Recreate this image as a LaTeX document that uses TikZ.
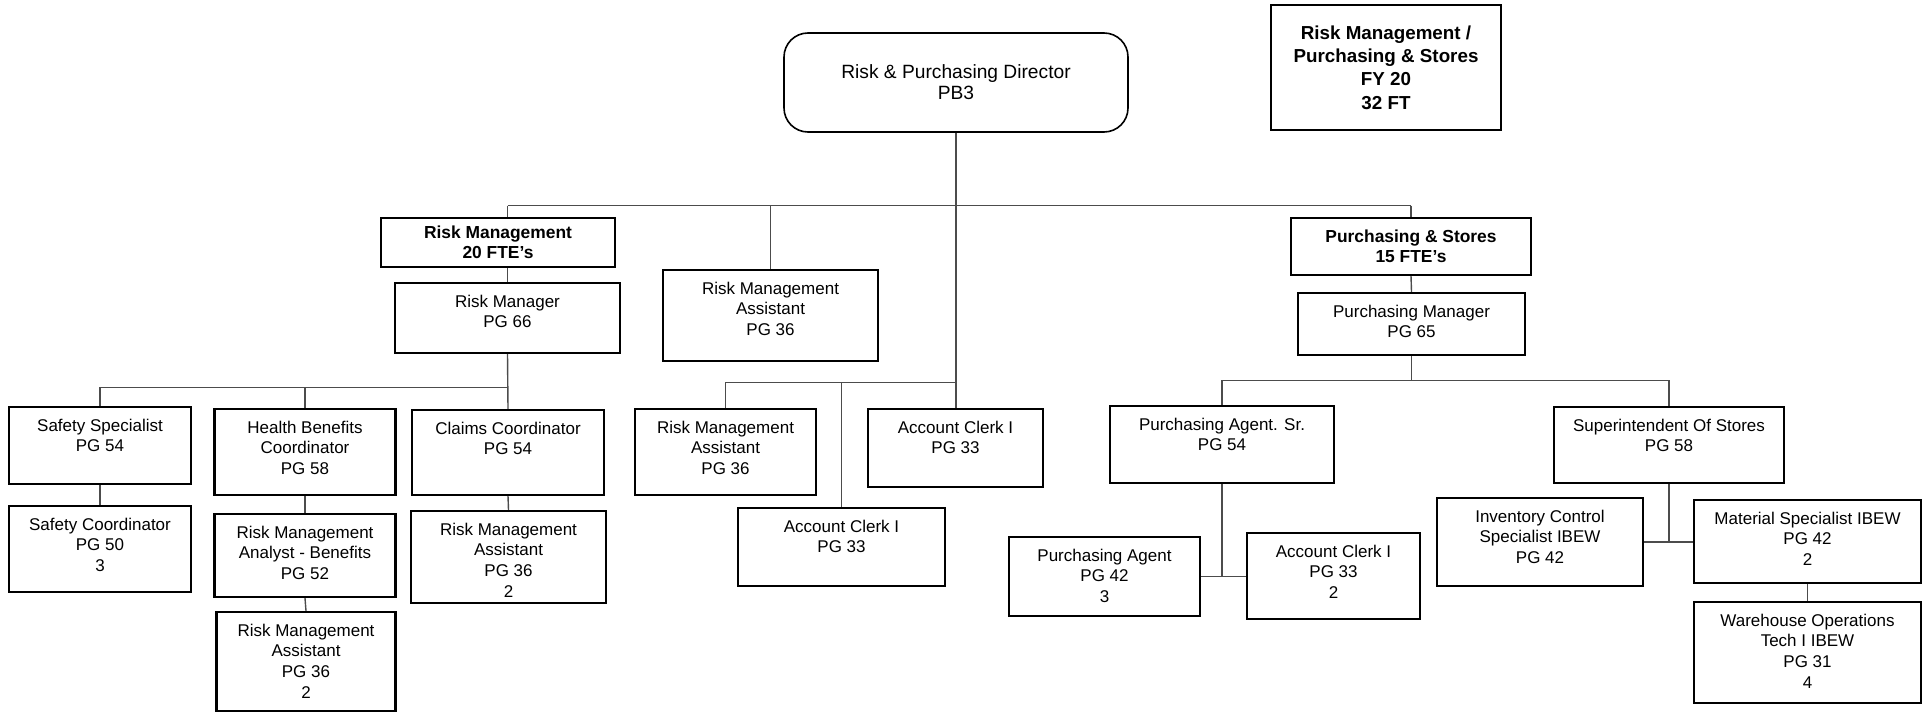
\documentclass[tikz,border=0pt]{standalone}
\usepackage{fontspec}
\setmainfont{Liberation Sans}
\usepackage{tikz}
\tikzstyle{post}=[rectangle,draw=black,line width=1.1pt,inner sep=0pt]
\tikzstyle{head}=[rectangle,rounded corners=12pt,draw=black,line width=0.8pt,inner sep=0pt,align=center,font=\fontsize{9.6}{10.5}\selectfont]
\tikzstyle{dept}=[rectangle,draw=black,line width=1.1pt,inner sep=0pt,align=center,font=\bfseries\fontsize{8.7}{10}\selectfont]
\tikzstyle{total}=[rectangle,draw=black,line width=1.1pt,inner sep=0pt,align=center,font=\bfseries\fontsize{9.4}{11.65}\selectfont]
\tikzstyle{ptext}=[anchor=north,inner sep=0pt,yshift=-6.3pt,align=center,font=\fontsize{8.5}{10.35}\selectfont]
\tikzstyle{link}=[-,draw=black!70,line width=0.7pt]
\pgfdeclarelayer{edgelayer}
\pgfdeclarelayer{nodelayer}
\pgfsetlayers{edgelayer,nodelayer,main}

\begin{document}
\begin{tikzpicture}[x=50pt,y=50pt]
	\useasboundingbox (0, 0) rectangle (19.31, -7.12);
	\begin{pgfonlayer}{nodelayer}
		\node [style=head, minimum width=172pt, minimum height=49.5pt] (dir) at (9.56, -0.825) {Risk \& Purchasing Director\\PB3};
		\node [style=total, minimum width=115pt, minimum height=62.5pt] (fy) at (13.86, -0.675) {Risk Management /\\Purchasing \& Stores\\FY 20\\32 FT};
		\node [style=dept, minimum width=117pt, minimum height=24.5pt] (rmdept) at (4.98, -2.425) {Risk Management\\20 FTE’s};
		\node [style=dept, minimum width=120pt, minimum height=28.5pt] (psdept) at (14.11, -2.465) {Purchasing \& Stores\\15 FTE’s};
		\node [style=post, minimum width=112.5pt, minimum height=35pt] (rmgr) at (5.075, -3.18) {};
		\node [style=ptext] (rmgr text) at (rmgr.north) {Risk Manager\\PG 66};
		\node [style=post, minimum width=107.5pt, minimum height=45.5pt] (rma1) at (7.705, -3.155) {};
		\node [style=ptext] (rma1 text) at (rma1.north) {Risk Management\\Assistant\\PG 36};
		\node [style=post, minimum width=113.5pt, minimum height=31pt] (pmgr) at (14.115, -3.24) {};
		\node [style=ptext] (pmgr text) at (pmgr.north) {Purchasing Manager\\PG 65};
		\node [style=post, minimum width=91pt, minimum height=38.5pt] (sspec) at (1.00, -4.455) {};
		\node [style=ptext] (sspec text) at (sspec.north) {Safety Specialist\\PG 54};
		\node [style=post, minimum width=91pt, minimum height=43pt] (scoord) at (1.00, -5.49) {};
		\node [style=ptext] (scoord text) at (scoord.north) {Safety Coordinator\\PG 50\\3};
		\node [style=post, minimum width=90.5pt, minimum height=43pt] (hben) at (3.05, -4.52) {};
		\node [style=ptext] (hben text) at (hben.north) {Health Benefits\\Coordinator\\PG 58};
		\node [style=post, minimum width=90.5pt, minimum height=41.5pt] (rman) at (3.05, -5.555) {};
		\node [style=ptext] (rman text) at (rman.north) {Risk Management\\Analyst - Benefits\\PG 52};
		\node [style=post, minimum width=89.5pt, minimum height=49.5pt] (rma2) at (3.06, -6.615) {};
		\node [style=ptext] (rma2 text) at (rma2.north) {Risk Management\\Assistant\\PG 36\\2};
		\node [style=post, minimum width=96pt, minimum height=42.5pt] (claims) at (5.08, -4.525) {};
		\node [style=ptext] (claims text) at (claims.north) {Claims Coordinator\\PG 54};
		\node [style=post, minimum width=97.5pt, minimum height=46pt] (rma3) at (5.085, -5.57) {};
		\node [style=ptext] (rma3 text) at (rma3.north) {Risk Management\\Assistant\\PG 36\\2};
		\node [style=post, minimum width=90.5pt, minimum height=43pt] (rma4) at (7.255, -4.52) {};
		\node [style=ptext] (rma4 text) at (rma4.north) {Risk Management\\Assistant\\PG 36};
		\node [style=post, minimum width=87.5pt, minimum height=39pt] (clerk1) at (9.555, -4.48) {};
		\node [style=ptext] (clerk1 text) at (clerk1.north) {Account Clerk I\\PG 33};
		\node [style=post, minimum width=103.5pt, minimum height=39pt] (clerk2) at (8.415, -5.47) {};
		\node [style=ptext] (clerk2 text) at (clerk2.north) {Account Clerk I\\PG 33};
		\node [style=post, minimum width=112pt, minimum height=38.5pt] (pasr) at (12.22, -4.445) {};
		\node [style=ptext] (pasr text) at (pasr.north) {Purchasing Agent. Sr.\\PG 54};
		\node [style=post, minimum width=115pt, minimum height=38pt] (supt) at (16.69, -4.45) {};
		\node [style=ptext] (supt text) at (supt.north) {Superintendent Of Stores\\PG 58};
		\node [style=post, minimum width=95.5pt, minimum height=39.5pt] (pagent) at (11.045, -5.765) {};
		\node [style=ptext] (pagent text) at (pagent.north) {Purchasing Agent\\PG 42\\3};
		\node [style=post, minimum width=86.5pt, minimum height=43pt] (clerk3) at (13.335, -5.76) {};
		\node [style=ptext] (clerk3 text) at (clerk3.north) {Account Clerk I\\PG 33\\2};
		\node [style=post, minimum width=103pt, minimum height=44pt] (inv) at (15.40, -5.42) {};
		\node [style=ptext] (inv text) at (inv.north) {Inventory Control\\Specialist IBEW\\PG 42};
		\node [style=post, minimum width=113.5pt, minimum height=41.5pt] (matl) at (18.075, -5.415) {};
		\node [style=ptext] (matl text) at (matl.north) {Material Specialist IBEW\\PG 42\\2};
		\node [style=post, minimum width=113.5pt, minimum height=50.5pt] (whse) at (18.075, -6.525) {};
		\node [style=ptext] (whse text) at (whse.north) {Warehouse Operations\\Tech I IBEW\\PG 31\\4};
		\coordinate (b0) at (0, -2.057);
		\coordinate (b1) at (0, -3.873);
		\coordinate (b2) at (0, -3.827);
		\coordinate (b3) at (0, -3.807);
	\end{pgfonlayer}
	\begin{pgfonlayer}{edgelayer}
		\draw [style=link] (dir.south) -- (dir.south |- clerk1.north);
		\draw [style=link] (b0 -| rmgr) -- (b0 -| psdept);
		\draw [style=link] (b0 -| rmgr) -- (rmgr |- rmdept.north);
		\draw [style=link] (b0 -| rma1) -- (rma1.north);
		\draw [style=link] (b0 -| psdept) -- (psdept.north);
		\draw [style=link] (rmgr |- rmdept.south) -- (rmgr.north);
		\draw [style=link] (rmgr.south) |- (b1 -| sspec) -- (sspec.north);
		\draw [style=link] (b1 -| hben) -- (hben.north);
		\draw [style=link] (rmgr.south) -- (claims.north);
		\draw [style=link] (sspec.south) -- (scoord.north);
		\draw [style=link] (hben.south) -- (rman.north);
		\draw [style=link] (rman.south) -- (rma2.north);
		\draw [style=link] (claims.south) -- (rma3.north);
		\draw [style=link] (b2 -| dir.south) -| (rma4.north);
		\draw [style=link] (b2 -| clerk2) -- (clerk2.north);
		\draw [style=link] (psdept.south) -- (pmgr.north);
		\draw [style=link] (pmgr.south) |- (b3 -| pasr) -- (pasr.north);
		\draw [style=link] (b3 -| pmgr) -| (supt.north);
		\draw [style=link] (pasr.south) -- (pasr.south |- pagent.east);
		\draw [style=link] (pagent.east) -- (pagent.east -| clerk3.west);
		\draw [style=link] (supt.south) -- (supt.south |- inv.east);
		\draw [style=link] (inv.east) -- (inv.east -| matl.west);
		\draw [style=link] (matl.south) -- (whse.north);
	\end{pgfonlayer}
\end{tikzpicture}
\end{document}
